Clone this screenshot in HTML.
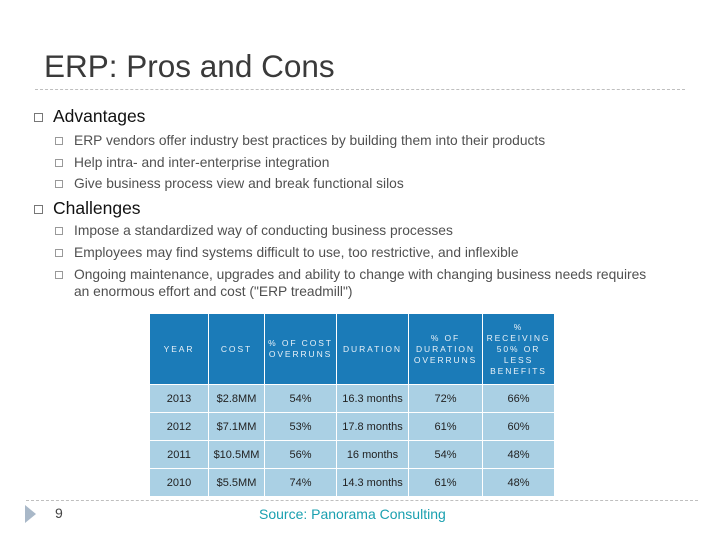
<!DOCTYPE html>
<html><head><meta charset="utf-8">
<style>
*{margin:0;padding:0;box-sizing:border-box}
body{width:720px;height:540px;background:#fff;position:relative;overflow:hidden;font-family:"Liberation Sans",sans-serif}
.abs{position:absolute}
.title{left:44px;top:48px;font-size:31.5px;color:#3a3a3a;white-space:nowrap}
.dash{left:35px;width:650px;border-top:1px dashed #bfbfbf;height:0}
.l1{font-size:17.5px;color:#111;white-space:nowrap}
.l2{font-size:13.8px;color:#505050;white-space:nowrap;line-height:17px}
.box{position:absolute;border:1px solid #777;}
.b1{width:9px;height:9px}
.b2{width:8px;height:8px;border-color:#999}
table{position:absolute;left:149px;top:313px;width:405px;height:183px;border-collapse:collapse;table-layout:fixed}
td{border:1.5px solid #fff;text-align:center;font-size:11px;color:#222;padding:0;white-space:nowrap}
tr.h td{background:#1b7bb8;color:#e8f1f8;font-size:8.5px;letter-spacing:1.9px;line-height:11px;height:71px}
tr.r td{background:#aad0e4;height:28px}
.src{left:259px;top:506px;font-size:14px;color:#1aa0b0}
</style></head><body>
<div class="abs title">ERP: Pros and Cons</div>
<div class="abs dash" style="top:89px"></div>

<div class="box b1" style="left:34px;top:113px"></div>
<div class="abs l1" style="left:53px;top:106px">Advantages</div>
<div class="box b2" style="left:55px;top:137px"></div>
<div class="abs l2" style="left:74px;top:132px">ERP vendors offer industry best practices by building them into their products</div>
<div class="box b2" style="left:55px;top:159px"></div>
<div class="abs l2" style="left:74px;top:154px">Help intra- and inter-enterprise integration</div>
<div class="box b2" style="left:55px;top:180px"></div>
<div class="abs l2" style="left:74px;top:175px">Give business process view and break functional silos</div>

<div class="box b1" style="left:34px;top:205px"></div>
<div class="abs l1" style="left:53px;top:198px">Challenges</div>
<div class="box b2" style="left:55px;top:227px"></div>
<div class="abs l2" style="left:74px;top:222px">Impose a standardized way of conducting business processes</div>
<div class="box b2" style="left:55px;top:249px"></div>
<div class="abs l2" style="left:74px;top:244px">Employees may find systems difficult to use, too restrictive, and inflexible</div>
<div class="box b2" style="left:55px;top:271px"></div>
<div class="abs l2" style="left:74px;top:266px">Ongoing maintenance, upgrades and ability to change with changing business needs requires<br>an enormous effort and cost ("ERP treadmill")</div>

<table>
<colgroup><col style="width:59px"><col style="width:56px"><col style="width:72px"><col style="width:72px"><col style="width:74px"><col style="width:72px"></colgroup>
<tr class="h"><td>YEAR</td><td>COST</td><td>% OF COST<br>OVERRUNS</td><td>DURATION</td><td>% OF<br>DURATION<br>OVERRUNS</td><td>%<br>RECEIVING<br>50% OR<br>LESS<br>BENEFITS</td></tr>
<tr class="r"><td>2013</td><td>$2.8MM</td><td>54%</td><td>16.3 months</td><td>72%</td><td>66%</td></tr>
<tr class="r"><td>2012</td><td>$7.1MM</td><td>53%</td><td>17.8 months</td><td>61%</td><td>60%</td></tr>
<tr class="r"><td>2011</td><td>$10.5MM</td><td>56%</td><td>16 months</td><td>54%</td><td>48%</td></tr>
<tr class="r"><td>2010</td><td>$5.5MM</td><td>74%</td><td>14.3 months</td><td>61%</td><td>48%</td></tr>
</table>

<div class="abs dash" style="top:500px;left:26px;width:672px"></div>
<svg class="abs" style="left:25px;top:505px" width="12" height="18"><polygon points="0,0 11,9 0,18" fill="#a9b8c8"/></svg>
<div class="abs" style="left:55px;top:505px;font-size:14px;color:#444">9</div>
<div class="abs src">Source: Panorama Consulting</div>
</body></html>
